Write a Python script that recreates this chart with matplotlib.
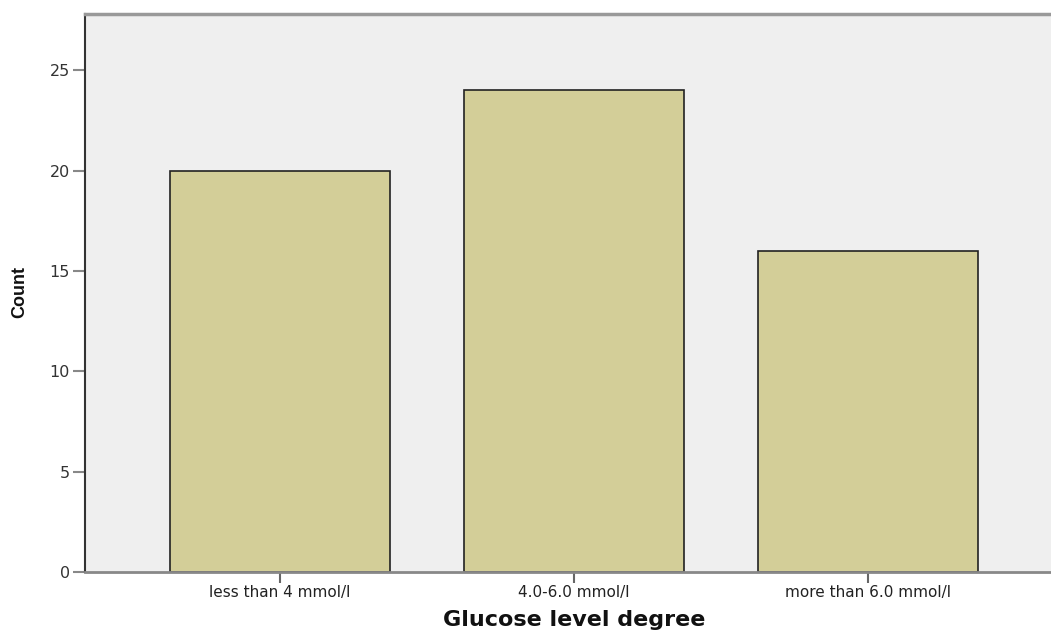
import matplotlib
matplotlib.use("Agg")
import matplotlib.pyplot as plt

categories = ["less than 4 mmol/l", "4.0-6.0 mmol/l", "more than 6.0 mmol/l"]
counts = [20, 24, 16]
yticks = [0, 5, 10, 15, 20, 25]

plt.rcParams["font.family"] = ["DejaVu Sans"]

fig = plt.figure(figsize=(10.51, 6.30), dpi=100)
ax = fig.add_axes([85 / 1051, 58 / 630, 1 - 85 / 1051, 558 / 630])
ax.set_facecolor("#efefef")

positions = list(range(len(categories)))
ax.bar(positions, counts, width=0.75, color="#d3ce98", edgecolor="#222222", linewidth=1.2, zorder=2)

ax.set_xlim(-0.663, 2.622)
ax.set_ylim(0, 27.8)
ax.set_xticks(positions)
ax.set_xticklabels(categories, fontsize=11, color="#222222")
ax.set_yticks(yticks)
ax.set_yticklabels([str(t) for t in yticks], fontsize=11.5, color="#333333")

ax.tick_params(axis="y", length=9, width=1.5, color="#888888", pad=2)
ax.tick_params(axis="x", length=8, width=1.5, color="#666666", pad=1)

ax.spines["right"].set_visible(False)
ax.spines["left"].set_color("#333333")
ax.spines["left"].set_linewidth(1.5)
ax.spines["bottom"].set_color("#888888")
ax.spines["bottom"].set_linewidth(2)
ax.spines["top"].set_color("#999999")
ax.spines["top"].set_linewidth(2.5)

fig.text(574 / 1051, 9.5 / 630, "Glucose level degree", fontsize=16, fontweight="bold",
         ha="center", va="center", color="#111111")
fig.text(20 / 1051, 1 - 292 / 630, "Count", fontsize=13, fontweight="bold",
         rotation=90, ha="center", va="center", color="#111111",
         fontfamily=["Liberation Sans Narrow", "Liberation Sans"])

fig.savefig("out.png", dpi=100)
